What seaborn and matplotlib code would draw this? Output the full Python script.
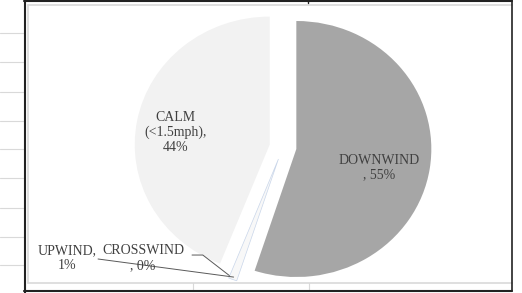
import numpy as np
import matplotlib.pyplot as plt
from matplotlib.lines import Line2D
import seaborn as sns

sns.set_theme(style="white")
plt.rcParams["font.family"] = ["Liberation Serif", "DejaVu Serif"]

# Wind direction share (%)
categories = ["DOWNWIND", "UPWIND", "CROSSWIND", "CALM"]
shares = [55, 1, 0, 44]
label_text = ["DOWNWIND\n, 55%", "UPWIND,\n1%", "CROSSWIND\n, 0%", "CALM\n(<1.5mph),\n44%"]
colors = ["#a6a6a6", "#f8f8f8", "#ffffff", "#f2f2f2"]

W, H = 522, 293
fig = plt.figure(figsize=(W / 100, H / 100), dpi=100)
fig.patch.set_facecolor("white")

# pie axes: screenshot is a bit stretched, 1 unit = 135 px wide, 128 px tall
RX, RY = 135.0, 128.0
cx, cy = 283, 147
ax = fig.add_axes([0, 0, 1, 1])
wedges, _ = ax.pie(shares, colors=colors, startangle=90, counterclock=False,
                   explode=[0.1, 0.1, 0.1, 0.1],
                   wedgeprops=dict(linewidth=0))
wedges[1].set_edgecolor("#c9d6ea")
wedges[1].set_linewidth(0.5)
ax.set_aspect("auto")
ax.set_xlim(-cx / RX, (W - cx) / RX)
ax.set_ylim(-(H - cy) / RY, cy / RY)
ax.axis("off")

txt_kw = dict(color="#404040", fontsize=10, ha="center", va="center", linespacing=1.15)

# labels inside the big slices (distance from slice centre, vertical nudge)
inside = {0: (0.62, -0.05), 3: (0.71, -0.04)}
for i, (dist, dy) in inside.items():
    w = wedges[i]
    mid = np.deg2rad((w.theta1 + w.theta2) / 2)
    x0, y0 = w.center
    ax.text(x0 + dist * np.cos(mid), y0 + dist * np.sin(mid) + dy, label_text[i], **txt_kw)

# small slices: outside labels with leader lines (text x, text y, leader x, leader y)
outside = {1: (-1.60, -0.867, -1.37, -0.875), 2: (-1.037, -0.867, -0.674, -0.844)}
for i, (tx, ty, lx, ly) in outside.items():
    w = wedges[i]
    mid = np.deg2rad((w.theta1 + w.theta2) / 2)
    x0, y0 = w.center
    px, py = x0 + 0.98 * np.cos(mid), y0 + 0.98 * np.sin(mid)
    ax.text(tx, ty, label_text[i], **txt_kw)
    bend = lx + 0.08 if i == 2 else lx
    ax.plot([lx, bend, px], [ly, ly, py], color="#595959", lw=0.7)

# spreadsheet frame around the chart
def hline(y, x0, x1, c, lw):
    fig.add_artist(Line2D([x0 / W, x1 / W], [1 - y / H, 1 - y / H], color=c, lw=lw))

def vline(x, y0, y1, c, lw):
    fig.add_artist(Line2D([x / W, x / W], [1 - y0 / H, 1 - y1 / H], color=c, lw=lw))

for gy in [33, 62, 92, 121, 149, 178, 208, 237, 265]:
    hline(gy, 0, 24, "#d9d9d9", 0.8)
hline(5, 28, 512, "#d9d9d9", 1.2)
hline(283, 28, 512, "#d9d9d9", 1.2)
vline(28, 5, 283, "#d9d9d9", 1.2)
vline(193, 283, 290, "#d9d9d9", 0.8)
vline(309, 283, 290, "#d9d9d9", 0.8)
hline(1, 24, 512, "#222222", 1.5)
hline(290.5, 24, 512, "#222222", 1.5)
vline(24.5, 0, 293, "#222222", 1.5)
vline(512, 0, 291, "#222222", 1.2)
vline(308, 0, 3, "#222222", 1.0)

fig.savefig("out.png", dpi=100, facecolor="white")
